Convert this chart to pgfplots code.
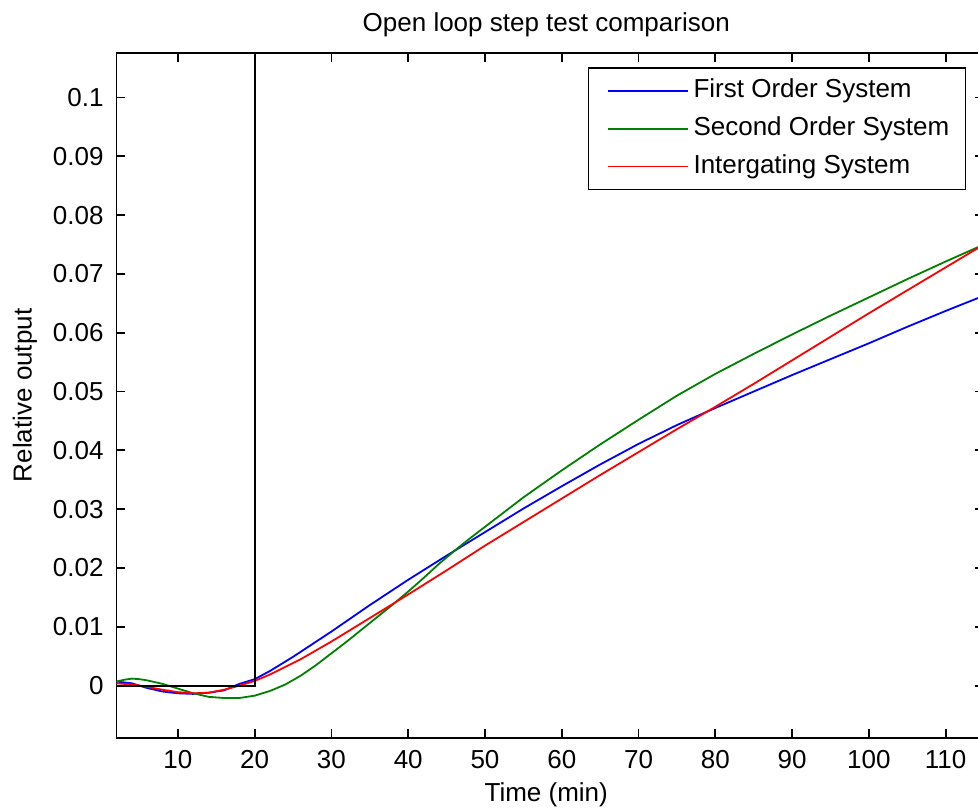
\documentclass[border=0pt]{standalone}
\usepackage{fontspec}
\setmainfont{Liberation Sans}
\usepackage{pgfplots}
\pgfplotsset{compat=1.18}
\definecolor{mblue}{rgb}{0,0,1}
\definecolor{mgreen}{rgb}{0,0.5,0}
\definecolor{mred}{rgb}{1,0,0}
\newcommand{\ff}{\fontsize{13}{15.6}\selectfont}
\begin{document}
\begin{tikzpicture}
\begin{axis}[
  scale only axis, width=433.75pt, height=342.65pt,
  xmin=2, xmax=115, ymin=-0.0089, ymax=0.1076,
  axis line style={line width=0.9pt, black},
  tick align=inside, major tick length=4.5pt,
  tick style={line width=0.9pt, black},
  xtick={10,20,30,40,50,60,70,80,90,100,110},
  xticklabels={10,20,30,40,50,60,70,80,90,100,110},
  ytick={0,0.01,0.02,0.03,0.04,0.05,0.06,0.07,0.08,0.09,0.1},
  yticklabels={0,0.01,0.02,0.03,0.04,0.05,0.06,0.07,0.08,0.09,0.1},
  xticklabel style={font=\ff, inner sep=0pt, anchor=north, yshift=-6pt},
  yticklabel style={font=\ff, inner sep=0pt, anchor=east, xshift=-6.25pt},
  title={Open loop step test comparison},
  title style={font=\ff, at={(axis description cs:0.5,1)}, anchor=center, yshift=7.8pt, xshift=-2pt},
  xlabel={Time (min)},
  xlabel style={font=\ff, at={(axis description cs:0.5,0)}, anchor=center, yshift=-28.5pt, xshift=-2pt},
  ylabel={Relative output},
  ylabel style={font=\ff, at={(axis description cs:0,0.5)}, anchor=center, yshift=45.75pt},
  legend style={font=\ff, at={(axis description cs:1,1)}, anchor=north east,
    xshift=-9pt, yshift=-7.3pt, draw=black, line width=0.7pt,
    inner xsep=5.75pt, inner ysep=2pt,
    nodes={inner xsep=2.25pt, inner ysep=3.2pt, text height=9.5pt, text depth=3pt},
    cells={anchor=west}},
  legend cell align=left,
]
\addplot[mblue, line width=0.9pt,
  legend image code/.code={\path (-3.5pt,0pt); \draw[mblue, line width=0.9pt] (0pt,0pt) -- (40pt,0pt);}] coordinates {
(2,0.0007) (4,0.0004) (6,-0.0004) (8,-0.0010) (10,-0.0013) (12,-0.0014) (14,-0.0012) (16,-0.0008) (18,0.0003)
(20,0.0011) (22,0.0025) (25,0.0049) (30,0.0092) (35,0.0137) (40,0.0180) (45,0.0221) (50,0.0261)
(55,0.0301) (60,0.0339) (65,0.0376) (70,0.0411) (75,0.0443) (80,0.0472) (85,0.0500) (90,0.0528)
(95,0.0555) (100,0.0582) (105,0.0610) (110,0.0637) (115,0.0663)};
\addlegendentry{First Order System}

\addplot[mgreen, line width=0.9pt,
  legend image code/.code={\path (-3.5pt,0pt); \draw[mgreen, line width=0.9pt] (0pt,0pt) -- (40pt,0pt);}] coordinates {
(2,0.0007) (3,0.0010) (4,0.0012) (5,0.0011) (6,0.0009) (8,0.0003) (10,-0.0005) (12,-0.0013) (14,-0.0019)
(16,-0.0021) (18,-0.0021) (20,-0.0017) (22,-0.0009) (24,0.0002) (26,0.0017) (28,0.0035) (30,0.0055)
(32,0.0075) (34,0.0096) (36,0.0117) (38,0.0138) (40,0.0160) (42,0.0183) (44,0.0207) (46,0.0229)
(48,0.0250) (50,0.0270) (55,0.0320) (60,0.0366) (65,0.0410) (70,0.0452) (75,0.0493) (80,0.0530)
(85,0.0564) (90,0.0597) (95,0.0629) (100,0.0660) (105,0.0691) (110,0.0721) (115,0.0750)};
\addlegendentry{Second Order System}

\addplot[mred, line width=0.9pt,
  legend image code/.code={\path (-3.5pt,0pt); \draw[mred, line width=0.9pt] (0pt,0pt) -- (40pt,0pt);}] coordinates {
(2,0.0004) (4,0.0002) (6,-0.0002) (8,-0.0007) (10,-0.0011) (12,-0.0013) (14,-0.0012) (16,-0.0007) (18,0.0000)
(20,0.0008) (22,0.0019) (24,0.0032) (26,0.0045) (28,0.0060) (30,0.0075) (35,0.0115) (40,0.0155)
(45,0.0196) (50,0.0238) (55,0.0278) (60,0.0318) (65,0.0358) (70,0.0397) (75,0.0436) (80,0.0474)
(85,0.0513) (90,0.0553) (95,0.0593) (100,0.0633) (105,0.0672) (110,0.0711) (115,0.0750)};
\addlegendentry{Intergating System}

\addplot[black, line width=0.9pt, forget plot] coordinates {(2,0) (20,0) (20,0.2)};
\end{axis}
\pgfresetboundingbox
\useasboundingbox (-58.25pt,-36pt) rectangle (430.75pt,369pt);
\end{tikzpicture}
\end{document}
